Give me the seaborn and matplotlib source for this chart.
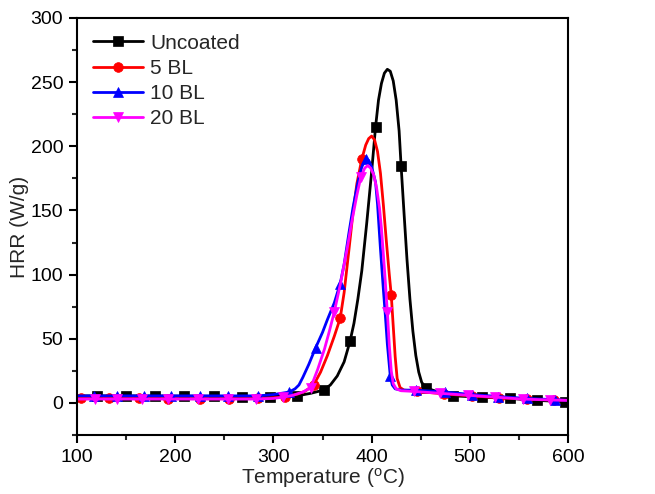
import numpy as np
import pandas as pd
import matplotlib
matplotlib.use("Agg")
import matplotlib.pyplot as plt
import seaborn as sns
from matplotlib.ticker import MultipleLocator

# =========================
# DATA
# =========================
T_unc = [100, 120, 150, 179, 209, 239, 268, 297, 324, 338, 351, 358, 365, 372, 378,
         382, 386, 390, 395, 400, 404, 407, 410, 413, 416, 419, 422, 425, 428, 430,
         433, 436, 439, 442, 445, 448, 451, 455, 462, 470, 483, 512, 541, 568, 597, 600]
H_unc = [5.5, 5.5, 5.5, 5.4, 5.3, 5.2, 5.0, 5.0, 5.5, 7.5, 10, 14, 21, 32, 48,
         62, 81, 103, 140, 180, 215, 236, 249, 257, 260, 258.5, 251, 236, 212, 185,
         148, 112, 81, 56, 37, 24, 16, 12, 10, 8, 5.5, 4.5, 3.5, 2, 1, 1]
M_unc = [120, 150, 179, 209, 239, 268, 297, 324, 351, 378, 404, 430, 455, 483, 512, 541, 568, 597]

T_5 = [100, 104, 133, 163, 193, 225, 255, 284, 312, 325, 332, 341, 348, 355, 362, 368,
       372, 377, 381, 385, 390, 394, 397, 400, 403, 406, 409, 412, 415, 418, 420, 422,
       424, 426, 429, 433, 440, 446, 460, 474, 502, 530, 558, 586, 600]
H_5 = [3.5, 3.5, 3.5, 3.5, 3.4, 3.3, 3.3, 3.5, 4.5, 7, 9, 14, 24, 37, 52, 66,
       86, 120, 148, 171, 190, 201, 206, 208, 205, 196, 179, 154, 126, 100, 84, 60,
       36, 19, 12, 10, 9.5, 9, 8, 7, 5.5, 4, 3, 2.3, 2]
M_5 = [104, 133, 163, 193, 225, 255, 284, 312, 341, 368, 390, 420, 446, 474, 502, 530, 558, 586]

T_10 = [100, 117, 141, 168, 196, 225, 254, 284, 300, 316, 322, 326, 330, 336, 343, 350,
        355, 362, 368, 372, 377, 381, 386, 390, 394, 397, 400, 404, 406, 409, 412, 414,
        416, 419, 421, 424, 430, 445, 475, 502, 529, 558, 587, 600]
H_10 = [5.5, 5.5, 5.5, 5.5, 5.5, 5.5, 5.5, 5.5, 6.5, 8.5, 11, 14, 20, 30, 43, 55,
        65, 78, 93, 108, 133, 152, 172, 184, 190, 189, 184, 172, 155, 120, 88, 68,
        46, 21, 14, 11, 10, 10, 8.5, 6.5, 5, 3.5, 2.5, 2]
M_10 = [117, 141, 168, 196, 225, 254, 284, 316, 343, 368, 394, 419, 445, 475, 502, 529, 558, 587]

T_20 = [100, 118, 141, 166, 193, 223, 254, 282, 300, 310, 320, 330, 338, 345, 352, 357,
        362, 368, 375, 380, 385, 389, 393, 396, 399, 402, 405, 408, 410, 413, 416, 418,
        420, 422, 425, 430, 443, 470, 498, 526, 554, 582, 600]
H_20 = [3, 3, 3, 3, 3, 3, 3, 3, 3.5, 4.5, 6, 8.5, 12, 26, 42, 56,
        71, 92, 120, 142, 162, 176, 183, 185, 183, 178, 168, 152, 136, 105, 71, 45,
        25, 15, 11, 9.5, 9, 7.5, 6, 4.5, 3, 2.3, 2]
M_20 = [118, 141, 166, 193, 223, 254, 282, 310, 338, 362, 389, 416, 443, 470, 498, 526, 554, 582]

LABELS = ["Uncoated", "5 BL", "10 BL", "20 BL"]
COLORS = ["black", "#ff0000", "#0000ff", "#ff00ff"]
MARKERS = ["s", "o", "^", "v"]

# =========================
# PLOT
# =========================
sns.set_style("ticks")
plt.rcParams["font.family"] = ["Liberation Sans", "DejaVu Sans"]

fig = plt.figure(figsize=(6.55, 4.94), dpi=100)
ax = fig.add_axes([0.1176, 0.1194, 0.7496, 0.8442])

series = [(T_unc, H_unc, M_unc), (T_5, H_5, M_5), (T_10, H_10, M_10), (T_20, H_20, M_20)]
for (t, h, m), lab, c, mk in zip(series, LABELS, COLORS, MARKERS):
    df = pd.DataFrame({"T": t, "HRR": h})
    idx = [i for i, v in enumerate(t) if v in m]
    sns.lineplot(data=df, x="T", y="HRR", ax=ax, color=c, label=lab,
                 estimator=None, sort=False, lw=2.0, marker=mk, markevery=idx,
                 markersize=7, markeredgecolor=c, markeredgewidth=0.5)

ax.set_xlim(100, 600)
ax.set_ylim(-25, 300)
ax.xaxis.set_major_locator(MultipleLocator(100))
ax.xaxis.set_minor_locator(MultipleLocator(50))
ax.yaxis.set_major_locator(MultipleLocator(50))
ax.yaxis.set_minor_locator(MultipleLocator(25))
ax.tick_params(which="major", direction="out", length=6, width=1.5, labelsize=14,
               top=False, right=False, colors="black", pad=4)
ax.tick_params(which="minor", direction="out", length=3.5, width=1.5,
               top=False, right=False)
for s in ax.spines.values():
    s.set_linewidth(1.5)
    s.set_color("black")

ax.set_xlabel("Temperature ($\\mathregular{^{o}}$C)", fontsize=15, labelpad=0)
ax.set_ylabel("HRR (W/g)", fontsize=15, labelpad=1)

ax.legend(loc="upper left", bbox_to_anchor=(0.0, 1.0), frameon=False, fontsize=15,
          handlelength=2.4, handletextpad=0.35, labelspacing=0.3, borderaxespad=0.35)

fig.savefig("out.png", dpi=100)
plt.close(fig)
